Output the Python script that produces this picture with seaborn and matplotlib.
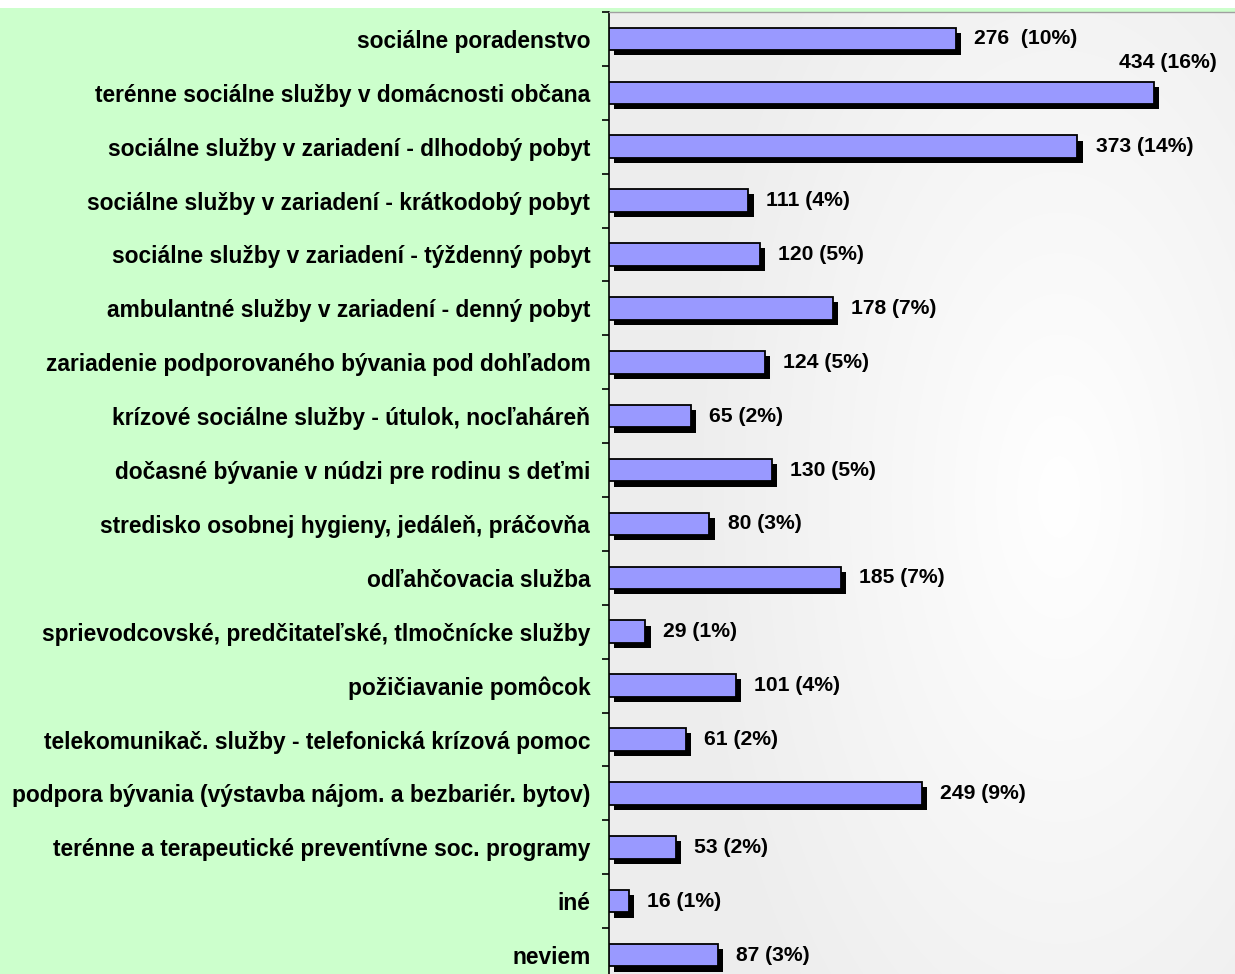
import numpy as np
import matplotlib
matplotlib.use("Agg")
import matplotlib.pyplot as plt
import matplotlib.patheffects as pe
from matplotlib.patches import Rectangle
from matplotlib.ticker import FixedLocator
import seaborn as sns
import pandas as pd

categories = [
    "sociálne poradenstvo",
    "terénne sociálne služby v domácnosti občana",
    "sociálne služby v zariadení - dlhodobý pobyt",
    "sociálne služby v zariadení - krátkodobý pobyt",
    "sociálne služby v zariadení - týždenný pobyt",
    "ambulantné služby v zariadení - denný pobyt",
    "zariadenie podporovaného bývania pod dohľadom",
    "krízové sociálne služby - útulok, nocľaháreň",
    "dočasné bývanie v núdzi pre rodinu s deťmi",
    "stredisko osobnej hygieny, jedáleň, práčovňa",
    "odľahčovacia služba",
    "sprievodcovské, predčitateľské, tlmočnícke služby",
    "požičiavanie pomôcok",
    "telekomunikač. služby - telefonická krízová pomoc",
    "podpora bývania (výstavba nájom. a bezbariér. bytov)",
    "terénne a terapeutické preventívne soc. programy",
    "iné",
    "neviem",
]
values = [276, 434, 373, 111, 120, 178, 124, 65, 130, 80, 185, 29, 101, 61, 249, 53, 16, 87]
value_labels = [
    "276  (10%)", "434 (16%)", "373 (14%)", "111 (4%)", "120 (5%)", "178 (7%)",
    "124 (5%)", "65 (2%)", "130 (5%)", "80 (3%)", "185 (7%)", "29 (1%)",
    "101 (4%)", "61 (2%)", "249 (9%)", "53 (2%)", "16 (1%)", "87 (3%)",
]

sns.set_theme(style="white")
plt.rcParams['font.family'] = ['Liberation Sans', 'DejaVu Sans']
plt.rcParams['text.color'] = 'black'
plt.rcParams['ytick.color'] = 'black'
plt.rcParams['ytick.labelcolor'] = 'black'

W, H = 1235, 974
fig = plt.figure(figsize=(W / 100, H / 100), dpi=100)
fig.patch.set_facecolor('white')
fig.add_artist(Rectangle((0, 0), 1, 1 - 8 / H, transform=fig.transFigure,
                         facecolor='#CCFFCC', edgecolor='none', zorder=-5))

ax_left = 609 / W
ax = fig.add_axes([ax_left, -8 / H, 1 - ax_left, 970 / H])
ax.set_facecolor('none')

# background gradient of plot area
gx, gy = np.meshgrid(np.linspace(0, 1, 300), np.linspace(0, 1, 300))
d = np.sqrt(((gx - 0.72) / 0.6) ** 2 + ((gy - 0.5) / 0.75) ** 2)
g = 1 - 0.07 * np.clip(d, 0, 1)
img = np.dstack([g, g, g])
ax.imshow(img, extent=(0, 1, 0, 1), transform=ax.transAxes, aspect='auto',
          zorder=0, interpolation='bilinear')

df = pd.DataFrame({'cat': categories, 'val': values})
sns.barplot(data=df, x='val', y='cat', orient='h', color='#9999FF',
            saturation=1, edgecolor='black', linewidth=1.3, width=0.42, ax=ax,
            zorder=3)

for p in ax.patches:
    p.set_path_effects([pe.SimplePatchShadow(offset=(3.7, -3.7), shadow_rgbFace='black', alpha=1.0),
                        pe.Normal()])

xmax = (W - 609) / 1.256
ax.set_xlim(0, xmax)
ax.set_ylim(len(categories) - 0.5, -0.5)

vmax = max(values)
for i, (v, lab) in enumerate(zip(values, value_labels)):
    if v == vmax:
        off = (-25, 22)
    else:
        off = (13, 0)
    ax.annotate(lab, xy=(v, i), xytext=off, textcoords='offset points',
                ha='left', va='center', fontsize=15.2, fontweight='bold',
                color='black', zorder=5)

ax.set_xlabel('')
ax.set_ylabel('')
ax.set_xticks([])
for s in ['right', 'bottom']:
    ax.spines[s].set_visible(False)
ax.spines['left'].set_color('black')
ax.spines['left'].set_linewidth(1.2)
ax.spines['top'].set_color('#A0A0A0')
ax.spines['top'].set_linewidth(1)

ax.yaxis.set_minor_locator(FixedLocator(np.arange(-0.5, len(categories), 1)))
ax.tick_params(axis='y', which='major', length=0, pad=13.5, labelsize=16.4,
               labelcolor='black')
ax.tick_params(axis='y', which='minor', length=5, width=1.2, color='black',
               direction='out', left=True)
for t in ax.get_yticklabels():
    t.set_fontweight('bold')
    t.set_color('black')

fig.savefig('out.png', dpi=100)
